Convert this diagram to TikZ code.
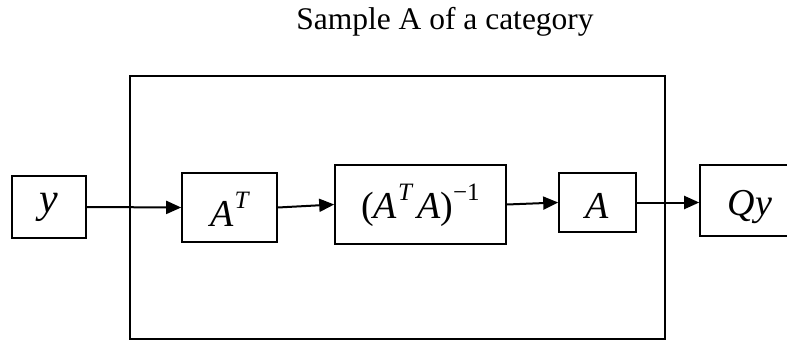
\documentclass[tikz,border=0pt]{standalone}
\usepackage{fontspec}
\setmainfont{Liberation Serif}
\usetikzlibrary{arrows.meta}
\newcommand{\mysup}[1]{\raisebox{0.45em}{\fontsize{25}{25}\selectfont #1}}
\begin{document}
\begin{tikzpicture}[x=1pt,y=-1pt,
  blockbox/.style={draw, line width=1.6pt, inner sep=0pt, text depth=0pt, font=\fontsize{38}{38}\selectfont},
  flow/.style={line width=2pt, -{Triangle[length=15pt,width=13pt]}}]
\useasboundingbox (0,0) rectangle (787,340);
\node[draw, line width=1.6pt, minimum width=535pt, minimum height=263pt, inner sep=0pt] (outer) at (397.5,207.5) {};
\node[anchor=base, font=\fontsize{31.5}{31.5}\selectfont] (title) at (445,29) {Sample A of a category};
\node[blockbox, minimum width=74pt, minimum height=62pt, text height=10pt, font=\fontsize{42}{42}\selectfont] (ybox) at (49,207) {\itshape y};
\node[blockbox, minimum width=95pt, minimum height=69pt, text height=37pt] (at) at (229.5,207.5) {\itshape A\kern1pt\mysup{T}};
\node[blockbox, minimum width=171pt, minimum height=79pt, text height=27pt] (inv) at (420.5,204.5) {(\itshape A\kern1pt\mysup{T}\kern5pt A\/\upshape)\mysup{\upshape −1}};
\node[blockbox, minimum width=77pt, minimum height=59pt, text height=31pt] (abox) at (597.5,202.5) {\itshape A};
\node[blockbox, minimum width=100pt, minimum height=71pt, text height=29pt] (qy) at (750,200.5) {\itshape Qy};
\draw[flow] (ybox.east) -- (at.west);
\draw[flow] (at.east) -- (inv.west);
\draw[flow] (inv.east) -- (abox.west);
\draw[flow] (abox.east) -- (abox.east -| qy.west);
\end{tikzpicture}
\end{document}
